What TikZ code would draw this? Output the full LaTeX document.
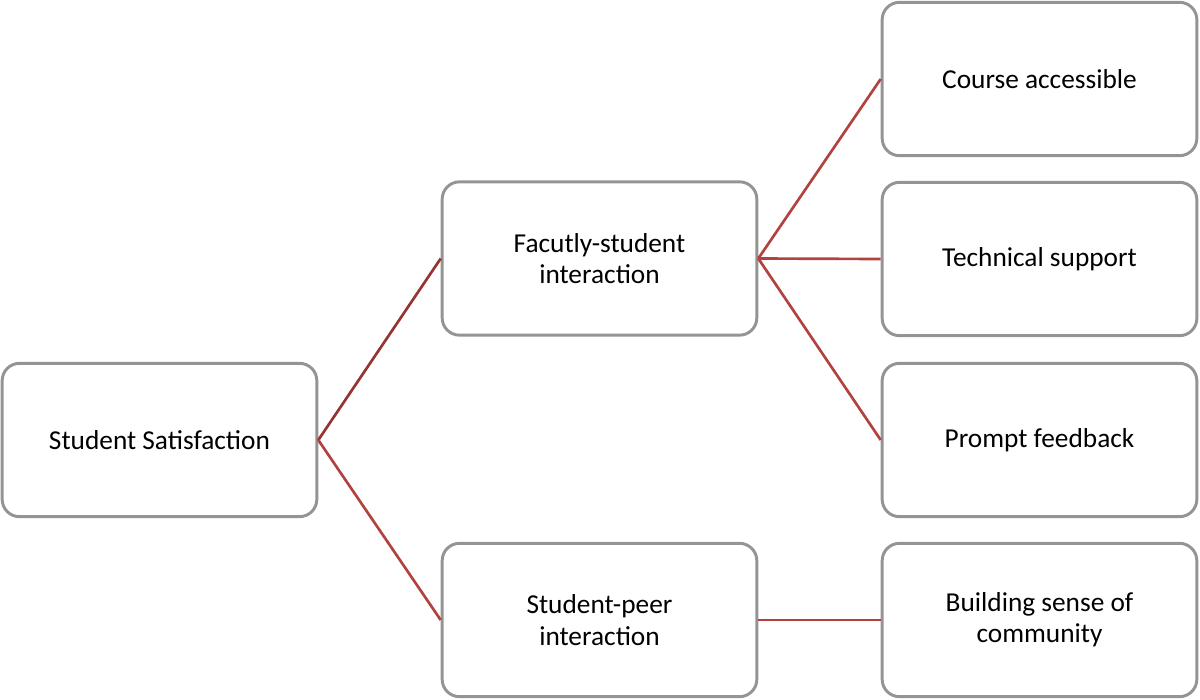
\documentclass[tikz,border=0pt]{standalone}
\usepackage{fontspec}
\setmainfont{Carlito}
\definecolor{linkred}{RGB}{178,66,64}
\definecolor{linkdark}{RGB}{150,52,50}
\begin{document}
\begin{tikzpicture}[x=0.75pt,y=-0.75pt]
   \tikzset{box/.style={draw=black!42,line width=2.2pt,fill=white,rounded corners=13pt,minimum width=236pt,minimum height=115pt,align=center,font=\fontsize{20.5}{23.5}\selectfont,inner sep=0pt},
            link/.style={draw=linkred,line width=2pt}}
   \useasboundingbox (0,0) rectangle (1200,700);
   \node [box] (sat) at (159.5,440) {Student Satisfaction};
   \node [box] (fac) at (599.5,258.5) {Facutly-student\\interaction};
   \node [box] (peer) at (599.5,620) {Student-peer\\interaction};
   \node [box] (acc) at (1039.5,79) {Course accessible};
   \node [box] (tech) at (1039.5,259) {Technical support};
   \node [box] (fb) at (1039.5,440) {Prompt feedback};
   \node [box] (comm) at (1039.5,620) {Building sense of\\community};
   \draw [link,draw=linkdark] (sat.east) -- (fac.west);
   \draw [link] (sat.east) -- (peer.west);
   \draw [link] (fac.east) -- (acc.west);
   \draw [link] (fac.east) -- (tech.west);
   \draw [link] (fac.east) -- (fb.west);
   \draw [link] (peer.east) -- (comm.west);
  \end{tikzpicture}
\end{document}
